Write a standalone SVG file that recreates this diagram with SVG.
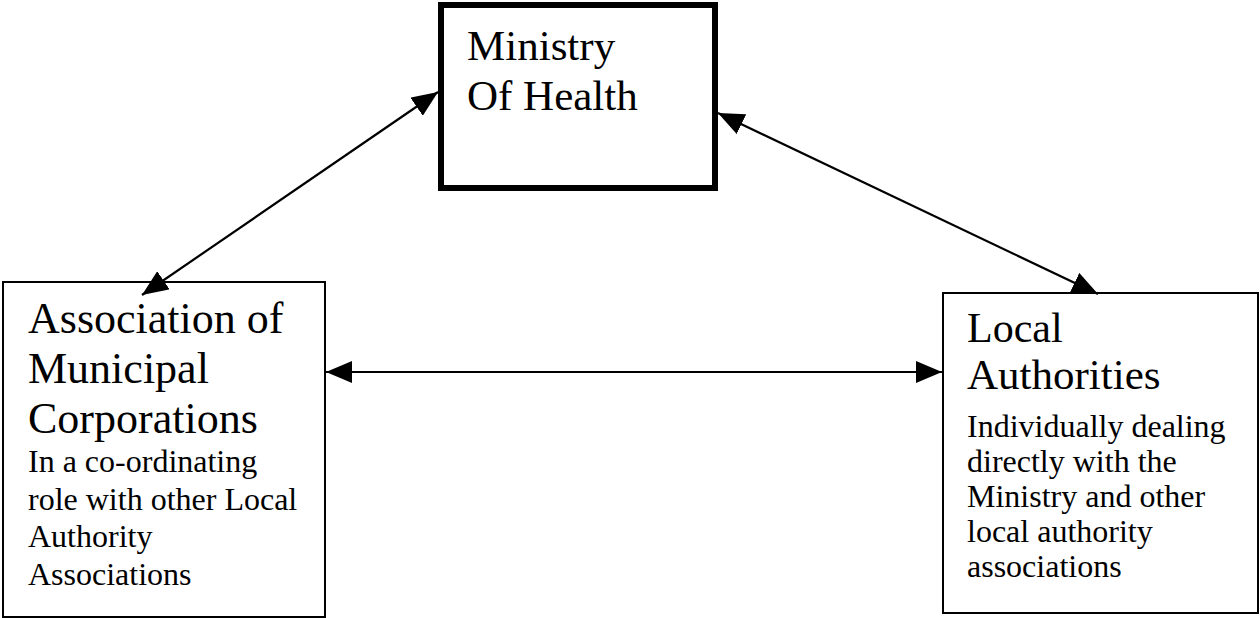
<svg xmlns="http://www.w3.org/2000/svg" width="1260" height="618" viewBox="0 0 1260 618">
<style>
.box{fill:#fff;stroke:#000;stroke-width:2}
.thick{fill:#fff;stroke:#000;stroke-width:6}
.big{font-family:"Liberation Serif","Times New Roman",serif;font-size:44px;fill:#000}
.small{font-family:"Liberation Serif","Times New Roman",serif;font-size:32px;fill:#000}
.conn{stroke:#000;stroke-width:2.2;fill:none;marker-start:url(#ah);marker-end:url(#ah)}
</style>
<defs>
<marker id="ah" markerUnits="userSpaceOnUse" viewBox="0 0 26 22" markerWidth="26" markerHeight="22" refX="26" refY="11" orient="auto-start-reverse">
<path d="M0,0 L26,11 L0,22 Z" fill="#000"/>
</marker>
</defs>
<rect width="1260" height="618" fill="#fff"/>
<g id="ministry">
<rect class="thick" x="441" y="5" width="274" height="183"/>
<text class="big" x="467" y="60" style="font-size:43px">Ministry</text>
<text class="big" x="467" y="110" style="font-size:43px">Of Health</text>
</g>
<g id="association">
<rect class="box" x="3" y="282" width="322" height="335"/>
<text class="big" x="28" y="333">Association of</text>
<text class="big" x="28" y="383">Municipal</text>
<text class="big" x="28" y="433">Corporations</text>
<text class="small" x="28" y="472">In a co-ordinating</text>
<text class="small" x="28" y="510">role with other Local</text>
<text class="small" x="28" y="547">Authority</text>
<text class="small" x="28" y="585">Associations</text>
</g>
<g id="local">
<rect class="box" x="943" y="293" width="315" height="320"/>
<text class="big" x="967" y="342" style="font-size:42px">Local</text>
<text class="big" x="967" y="389" style="font-size:43px">Authorities</text>
<text class="small" x="967" y="437">Individually dealing</text>
<text class="small" x="967" y="472">directly with the</text>
<text class="small" x="967" y="507">Ministry and other</text>
<text class="small" x="967" y="542">local authority</text>
<text class="small" x="967" y="577">associations</text>
</g>
<g id="connectors">
<line class="conn" x1="142" y1="295" x2="438" y2="92"/>
<line class="conn" x1="718" y1="113" x2="1098" y2="294"/>
<line class="conn" x1="326" y1="372" x2="942" y2="372"/>
</g>
</svg>
